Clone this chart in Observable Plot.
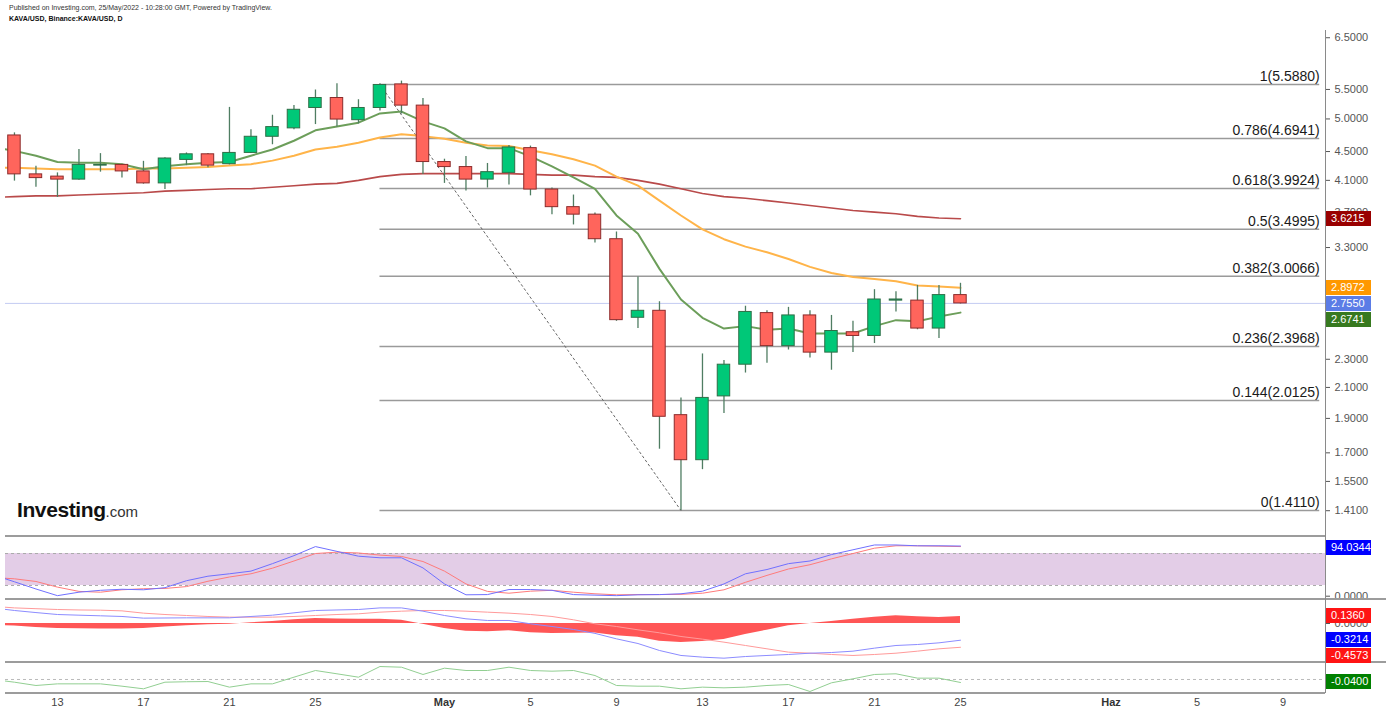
<!DOCTYPE html>
<html><head><meta charset="utf-8">
<script src="https://cdn.jsdelivr.net/npm/d3@7"></script>
<script src="https://cdn.jsdelivr.net/npm/@observablehq/plot@0.6"></script>
<style>
body{margin:0;background:#fff;font-family:"Liberation Sans",Arial,sans-serif;}
#wrap{position:relative;width:1386px;height:715px;overflow:hidden;background:#fff}
.panel{position:absolute;left:0;width:1386px;overflow:hidden}
.tag{position:absolute;left:1326px;width:45px;height:15px;line-height:15px;color:#fff;font-size:11px;padding-left:5px;box-sizing:border-box;font-family:"Liberation Sans",Arial,sans-serif}
.sep{position:absolute;height:2px;background:#9c9c9c}
.hdr{position:absolute;left:9px;font-size:7px;color:#333;white-space:nowrap}
</style></head><body>
<div id="wrap">
  <div class="panel" id="main" style="top:0;height:536px"></div>
  <div class="panel" id="stoch" style="top:536px;height:63px;overflow:visible"></div>
  <div class="panel" id="macd" style="top:599px;height:63px"></div>
  <div class="panel" id="mom" style="top:662px;height:53px"></div>
  <div class="hdr" style="top:4px">Published on Investing.com, 25/May/2022 - 10:28:00 GMT, Powered by TradingView.</div>
  <div class="hdr" style="top:15px;font-weight:bold;color:#111">KAVA/USD, Binance:KAVA/USD, D</div>
  <div style="position:absolute;left:17px;top:498px;white-space:nowrap;color:#111"><span style="font-size:21px;font-weight:bold;letter-spacing:-0.4px">Investing</span><span style="font-size:15px;color:#333">.com</span></div>
  <div class="sep" style="left:5px;width:1320px;top:535px"></div>
  <div class="sep" style="left:5px;width:1381px;top:598px"></div>
  <div class="sep" style="left:5px;width:1381px;top:661px"></div>
  <div class="sep" style="left:5px;width:1320px;top:692px"></div>
  <div style="position:absolute;left:1325px;top:30px;width:1px;height:663px;background:#8a8a8a"></div>
</div>
<script>
// ---------- data ----------
const open  = [4.74,4.18,4.15,4.11,4.30,4.31,4.22,4.06,4.38,4.46,4.32,4.48,4.72,4.85,5.18,5.35,4.98,5.18,5.59,5.22,
               4.35,4.28,4.11,4.20,4.55,3.98,3.76,3.67,3.39,2.63,2.69,1.92,1.66,2.04,2.26,2.67,2.40,2.65,2.35,2.51,2.48,2.78,2.78,2.54,2.83];
const high  = [4.78,4.29,4.20,4.53,4.47,4.32,4.36,4.41,4.48,4.47,5.19,4.83,5.06,5.22,5.49,5.60,5.32,5.60,5.65,5.34,
               4.39,4.43,4.33,4.59,4.58,4.00,3.91,3.69,3.47,3.00,2.77,2.03,2.34,2.29,2.73,2.69,2.72,2.69,2.65,2.60,2.88,2.86,2.92,2.92,2.94];
const low   = [4.09,4.01,3.88,4.10,4.21,4.13,4.05,3.98,4.30,4.27,4.31,4.47,4.60,4.83,4.91,4.87,4.92,5.13,5.08,4.18,
               4.06,3.96,4.00,4.04,3.90,3.67,3.55,3.35,2.60,2.54,1.72,1.411,1.61,1.93,2.20,2.27,2.37,2.31,2.22,2.35,2.42,2.68,2.53,2.46,2.75];
const close = [4.18,4.13,4.11,4.31,4.31,4.22,4.06,4.40,4.46,4.30,4.48,4.72,4.87,5.15,5.35,4.99,5.18,5.58,5.22,4.35,
               4.28,4.11,4.21,4.56,3.98,3.76,3.67,3.39,2.61,2.69,1.91,1.66,2.03,2.26,2.68,2.40,2.65,2.35,2.52,2.48,2.79,2.79,2.54,2.83,2.755];

// indicator series: Apr 10 .. May 25
const maFast = [4.56,4.51,4.44,4.35,4.34,4.34,4.32,4.25,4.29,4.32,4.34,4.35,4.44,4.53,4.66,4.82,4.88,4.94,5.09,5.12,4.96,
                4.85,4.65,4.55,4.55,4.43,4.29,4.14,3.99,3.66,3.45,3.08,2.79,2.63,2.54,2.56,2.53,2.54,2.50,2.50,2.50,2.56,2.61,2.60,2.64,2.6741];
const maMid  = [4.27,4.27,4.26,4.25,4.25,4.25,4.25,4.26,4.26,4.27,4.28,4.30,4.32,4.37,4.44,4.53,4.57,4.63,4.71,4.76,4.73,
                4.69,4.63,4.59,4.58,4.52,4.46,4.39,4.30,4.15,4.03,3.84,3.66,3.50,3.39,3.31,3.25,3.18,3.10,3.04,3.00,2.98,2.96,2.92,2.91,2.8972];
const maSlow = [3.88,3.89,3.90,3.90,3.91,3.92,3.93,3.94,3.96,3.97,3.98,3.99,3.99,4.01,4.03,4.05,4.06,4.10,4.15,4.18,4.19,
                4.19,4.19,4.19,4.19,4.18,4.17,4.17,4.15,4.14,4.10,4.05,3.99,3.93,3.89,3.87,3.84,3.81,3.78,3.75,3.72,3.70,3.68,3.65,3.63,3.6215];
const stochK = [40,27,13.5,1,7.5,11,13,12,16,29,37.5,42,47,61,76,93,84,75,72,72,53,
                23,2.6,3,12.5,12.5,11,3,2,1,2.6,3,4.5,9.4,23,42,50,61,66,78,87,96,96,94.5,94.5,94.0344];
const stochD = [35,32.6,27.6,17,9,7.5,12,14,14.5,18,28,36,42,52.5,66,80,82.5,81,77,74.5,65,
                47,23,9,5.6,9.4,11,7.5,4.5,2.6,3,3,3.5,5.6,12,26,39,51,59,70,80,90,94.5,94.5,93.8,93];
const macdLine = [0.30,0.25,0.21,0.173,0.16,0.148,0.135,0.103,0.106,0.109,0.109,0.109,0.135,0.16,0.205,0.25,0.26,0.269,0.30,0.30,0.237,
                  0.154,0.090,0.058,0.058,-0.006,-0.058,-0.115,-0.19,-0.295,-0.385,-0.519,-0.615,-0.647,-0.667,-0.635,-0.615,-0.596,-0.571,-0.558,-0.532,-0.474,-0.423,-0.404,-0.372,-0.3214];
const signalLine = [0.33,0.30,0.285,0.269,0.26,0.256,0.243,0.199,0.173,0.154,0.135,0.122,0.122,0.122,0.135,0.154,0.173,0.186,0.218,0.237,0.25,
                    0.25,0.237,0.218,0.199,0.173,0.135,0.071,-0.006,-0.058,-0.122,-0.179,-0.25,-0.301,-0.359,-0.423,-0.487,-0.551,-0.571,-0.596,-0.615,-0.596,-0.571,-0.532,-0.487,-0.4573];
const macdHist = [-0.03,-0.05,-0.075,-0.096,-0.10,-0.108,-0.108,-0.096,-0.067,-0.045,-0.026,-0.013,0.013,0.038,0.07,0.096,0.087,0.083,0.082,0.063,-0.013,
                  -0.096,-0.147,-0.16,-0.141,-0.179,-0.193,-0.186,-0.184,-0.237,-0.263,-0.34,-0.365,-0.346,-0.308,-0.212,-0.128,-0.045,0.0,0.038,0.083,0.122,0.148,0.128,0.115,0.136];
const momentum = [0,-0.036,-0.08,-0.058,-0.058,-0.058,-0.089,-0.124,-0.036,-0.03,-0.027,-0.102,-0.058,-0.058,0.031,0.12,0.076,0.031,0.173,0.164,0.067,
                  0.151,0.12,0.12,0.164,0.12,0.111,0.12,0.053,-0.08,-0.089,-0.089,-0.124,-0.102,-0.111,-0.102,-0.08,-0.067,-0.16,-0.044,0.009,0.067,0.076,0.018,0.018,-0.04];

const fibLevels = [1, 0.786, 0.618, 0.5, 0.382, 0.236, 0.144, 0];
const fibPrices = [5.588, 4.6941, 3.9924, 3.4995, 3.0066, 2.3968, 2.0125, 1.411];
const fibStart = "2022-04-28", fibEnd = "2022-06-10T17:00Z";
const trendDates = ["2022-04-28", "2022-05-12"];
const trendPrices = [5.588, 1.411];

const priceTicks = [6.5, 5.5, 5.0, 4.5, 4.1, 3.7, 3.3, 2.3, 2.1, 1.9, 1.7, 1.55, 1.41];
const tickDates = ["2022-04-13","2022-04-17","2022-04-21","2022-04-25","2022-05-01","2022-05-05","2022-05-09","2022-05-13","2022-05-17","2022-05-21","2022-05-25","2022-06-01","2022-06-05","2022-06-09"];
const tickLabels = ["13","17","21","25","May","5","9","13","17","21","25","Haz","5","9"];

// ---------- tables ----------
const days = d3.utcDay.range(new Date("2022-04-10"), new Date("2022-05-26"));
const candles = open.map((o, i) => ({date: days[i + 1], open: o, high: high[i], low: low[i], close: close[i]}));
const ind = days.map((d, i) => ({date: d, fast: maFast[i], mid: maMid[i], slow: maSlow[i], k: stochK[i], dd: stochD[i],
  macd: macdLine[i], signal: signalLine[i], hist: macdHist[i], mom: momentum[i]}));
const fibRows = fibLevels.map((l, i) => ({price: fibPrices[i], start: new Date(fibStart), end: new Date(fibEnd), label: `${l}(${fibPrices[i].toFixed(4)})`}));
const trendRows = trendDates.map((d, i) => ({date: new Date(d), price: trendPrices[i]}));
const ticks = tickDates.map((d, i) => ({date: new Date(d), label: tickLabels[i], month: isNaN(+tickLabels[i])}));

// ---------- layout ----------
const xDomain = [new Date("2022-04-10T14:00Z"), new Date("2022-06-10T23:27Z")];
const W = 1386, ML = 5, MR = 61;
const style = {fontFamily: "'Liberation Sans', Arial, sans-serif", fontSize: "11px", color: "#555", background: "transparent", overflow: "visible"};
const xOpt = {type: "utc", domain: xDomain, axis: null};
const half = 0.29 * 864e5;
const up = candles.filter(d => d.close >= d.open), down = candles.filter(d => d.close < d.open);
const bodyX = {x1: d => new Date(+d.date - half), x2: d => new Date(+d.date + half), y1: "open", y2: "close", strokeWidth: 1};

const mainDomain = [1.2973, 7.331], mainH = 536;
document.getElementById("main").appendChild(Plot.plot({
  width: W, height: mainH, marginLeft: ML, marginRight: MR, marginTop: 0, marginBottom: 0, style,
  x: xOpt,
  y: {type: "log", domain: mainDomain, axis: "right", ticks: priceTicks, tickFormat: d => d.toFixed(4), tickSize: 4, label: null},
  marks: [
    Plot.ruleY([close[close.length - 1]], {stroke: "#c3cbf2", strokeWidth: 1}),
    Plot.ruleY(fibRows, {y: "price", x1: "start", x2: "end", stroke: "#9a9a9a", strokeWidth: 1.5}),
    Plot.text(fibRows, {x: "end", y: "price", text: "label", textAnchor: "end", dy: -8, fontSize: 14, fill: "#1a1a1a"}),
    Plot.line(trendRows, {x: "date", y: "price", stroke: "#666", strokeWidth: 1, strokeDasharray: "2,3"}),
    Plot.line(ind, {x: "date", y: "slow", stroke: "#b94a4a", strokeWidth: 1.6, clip: true}),
    Plot.line(ind, {x: "date", y: "mid", stroke: "#ffb449", strokeWidth: 2, clip: true}),
    Plot.line(ind, {x: "date", y: "fast", stroke: "#6c9e5a", strokeWidth: 2, clip: true}),
    Plot.ruleX(candles, {x: "date", y1: "low", y2: "high", stroke: "#4f7d62", strokeWidth: 1.3}),
    Plot.rect(up, {...bodyX, fill: "#00c878", stroke: "#2f6e47"}),
    Plot.rect(down, {...bodyX, fill: "#ff655c", stroke: "#8c2b2b"})
  ]
}));

const stochDomain = [-6.2, 111.9];
document.getElementById("stoch").appendChild(Plot.plot({
  width: W, height: 63, marginLeft: ML, marginRight: MR, marginTop: 0, marginBottom: 0, style,
  x: xOpt,
  y: {domain: stochDomain, axis: "right", ticks: [0], tickFormat: d => d.toFixed(4), tickSize: 4, label: null},
  marks: [
    Plot.rect([{y1: 20, y2: 80}], {x1: xDomain[0], x2: xDomain[1], y1: "y1", y2: "y2", fill: "#e3cde7"}),
    Plot.ruleY([20, 80], {stroke: "#aaa", strokeDasharray: "3,3"}),
    Plot.line(ind, {x: "date", y: "dd", stroke: "#ff7b7b", strokeWidth: 1, clip: true}),
    Plot.line(ind, {x: "date", y: "k", stroke: "#7070ff", strokeWidth: 1, clip: true})
  ]
}));

const macdDomain = [-0.75, 0.4615];
document.getElementById("macd").appendChild(Plot.plot({
  width: W, height: 63, marginLeft: ML, marginRight: MR, marginTop: 0, marginBottom: 0, style,
  x: xOpt,
  y: {domain: macdDomain, axis: "right", ticks: [0], tickFormat: d => d.toFixed(4), tickSize: 4, label: null},
  marks: [
    Plot.area(ind, {x1: "date", y1: 0, y2: "hist", fill: "#ff5656", clip: true}),
    Plot.line(ind, {x: "date", y: "signal", stroke: "#ff9a9a", strokeWidth: 1, clip: true}),
    Plot.line(ind, {x: "date", y: "macd", stroke: "#8c8cff", strokeWidth: 1, clip: true})
  ]
}));

const momDomain = [-0.1867, 0.2267];
document.getElementById("mom").appendChild(Plot.plot({
  width: W, height: 53, marginLeft: ML, marginRight: MR, marginTop: 0, marginBottom: 22, style,
  x: xOpt,
  y: {domain: momDomain, axis: null},
  marks: [
    Plot.ruleY([0], {stroke: "#bbb", strokeDasharray: "3,3"}),
    Plot.line(ind, {x: "date", y: "mom", stroke: "#92cf92", strokeWidth: 1, clip: true}),
    Plot.text(ticks.filter(d => !d.month), {x: "date", text: "label", frameAnchor: "bottom", dy: 12, fill: "#444", fontSize: 11}),
    Plot.text(ticks.filter(d => d.month), {x: "date", text: "label", frameAnchor: "bottom", dy: 12, fill: "#333", fontSize: 11, fontWeight: "bold"})
  ]
}));

// ---------- value tags ----------
const yMain = d3.scaleLog().domain(mainDomain).range([mainH, 0]);
const yStoch = d3.scaleLinear().domain(stochDomain).range([536 + 63, 536]);
const yMacd = d3.scaleLinear().domain(macdDomain).range([599 + 63, 599]);
const yMom = d3.scaleLinear().domain(momDomain).range([662 + 31, 662]);
const last = a => a[a.length - 1];
function addTags(list) {
  list.sort((a, b) => a.y - b.y);
  let prev = -Infinity;
  for (const t of list) {
    if (t.y < prev + 16) t.y = prev + 16;
    prev = t.y;
    const el = document.createElement("div");
    el.className = "tag";
    el.style.top = (t.y - 7.5) + "px";
    el.style.background = t.color;
    el.textContent = t.value.toFixed(4);
    document.getElementById("wrap").appendChild(el);
  }
}
addTags([
  {value: last(maSlow), y: yMain(last(maSlow)), color: "#990000"},
  {value: last(maMid), y: yMain(last(maMid)), color: "#ff9800"},
  {value: last(close), y: yMain(last(close)), color: "#5b7ce6"},
  {value: last(maFast), y: yMain(last(maFast)), color: "#37791f"}
]);
addTags([{value: last(stochK), y: yStoch(last(stochK)) + 2, color: "#0000ff"}]);
addTags([
  {value: last(macdHist), y: yMacd(last(macdHist)), color: "#ff1414"},
  {value: last(macdLine), y: yMacd(last(macdLine)), color: "#0000ff"},
  {value: last(signalLine), y: yMacd(last(signalLine)), color: "#ff1414"}
]);
addTags([{value: last(momentum), y: yMom(last(momentum)), color: "#008000"}]);
</script>
</body></html>
